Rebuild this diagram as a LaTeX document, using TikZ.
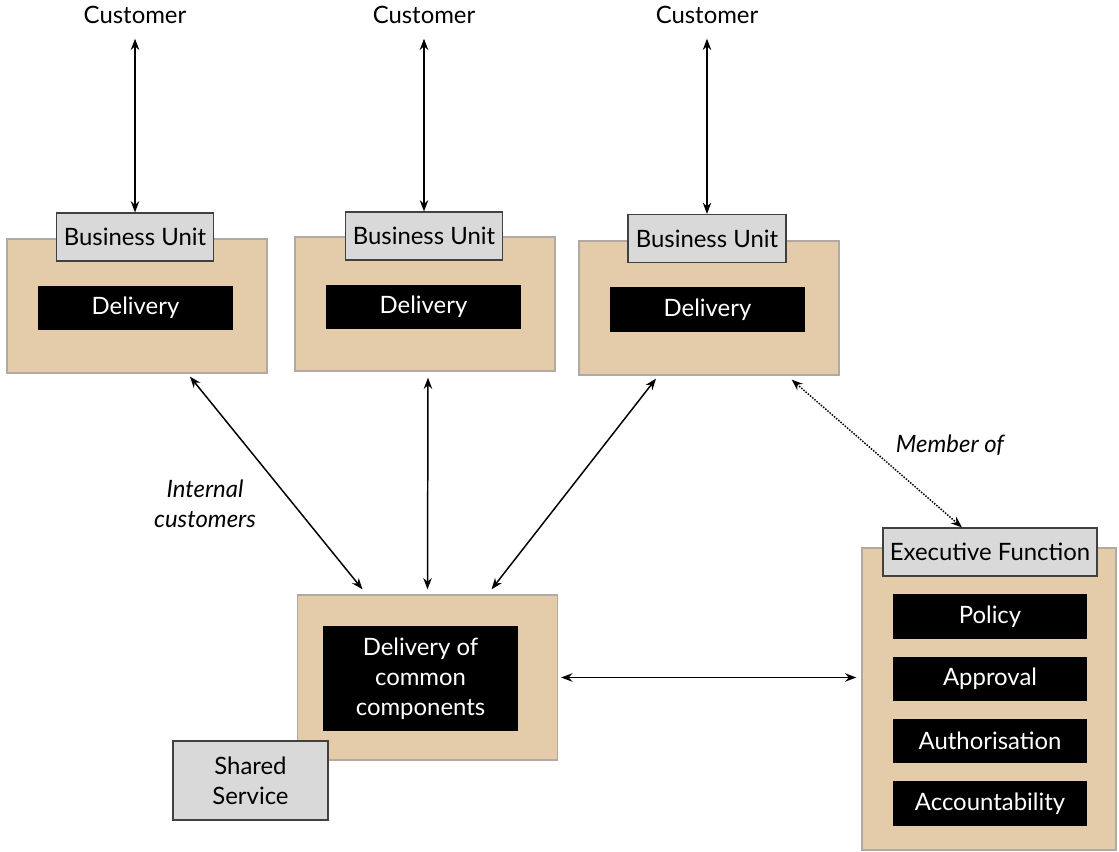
\documentclass[tikz,border=0pt]{standalone}
\usepackage{fontspec}
\setmainfont{Lato}
\usepackage{xcolor}
\usetikzlibrary{arrows.meta,positioning}

\definecolor{tanfill}{RGB}{228,204,170}
\definecolor{tanline}{RGB}{178,170,162}
\definecolor{lblfill}{RGB}{217,217,217}

\begin{document}
\begin{tikzpicture}[
    x=0.025cm, y=-0.025cm,
    font=\fontsize{17}{21.5}\selectfont,
    unit/.style={rectangle, draw=tanline, fill=tanfill, line width=0.9pt, minimum width=6.5cm, minimum height=3.35cm},
    lbl/.style={rectangle, draw=black!75, fill=lblfill, line width=0.8pt, align=center, minimum height=1.2cm, inner sep=2pt},
    task/.style={rectangle, fill=black, text=white, align=center, minimum width=4.85cm, minimum height=1.1cm},
    note/.style={align=center, font=\fontsize{17}{21.5}\selectfont\itshape},
    arrow/.style={{Stealth[length=8pt,width=6pt]}-{Stealth[length=8pt,width=6pt]}, line width=1.05pt, draw=black}
]
    \useasboundingbox (0,0) rectangle (1119,852);

    % business units
    \node [unit] (bu1) at (137,306) {};
    \node [unit] (bu2) at (425,304) {};
    \node [unit] (bu3) at (709,308) {};
    \node [lbl, minimum width=3.925cm] (bl1) at (135,237) {Business Unit};
    \node [lbl, minimum width=3.925cm] (bl2) at (424,236) {Business Unit};
    \node [lbl, minimum width=3.95cm] (bl3) at (707,238.5) {Business Unit};
    \node [task] (d1) at (135.5,308) {Delivery};
    \node [task] (d2) at (423.5,307) {Delivery};
    \node [task] (d3) at (707.5,309.5) {Delivery};

    % customers
    \node (c1) at (135,15) {Customer};
    \node (c2) at (424,15) {Customer};
    \node (c3) at (707,15) {Customer};

    % shared service
    \node [unit, minimum width=6.5cm, minimum height=4.125cm] (cc) at (427.5,677.5) {};
    \node [task, minimum height=2.625cm] (dc) at (420.5,678.5) {Delivery of\\common\\components};
    \node [lbl, minimum width=3.875cm, minimum height=1.975cm] (ss) at (250.5,780.5) {Shared\\Service};

    % executive function
    \node [unit, minimum width=6.35cm, minimum height=7.55cm] (ex) at (989,699) {};
    \node [lbl, minimum width=5.35cm] (el) at (990,552) {Executive Function};
    \node [task, minimum width=4.85cm, minimum height=1.125cm] (t1) at (990,616.5) {Policy};
    \node [task, minimum width=4.85cm, minimum height=1.1cm] (t2) at (990,679) {Approval};
    \node [task, minimum width=4.85cm, minimum height=1.1cm] (t3) at (990,741) {Authorisation};
    \node [task, minimum width=4.85cm, minimum height=1.125cm] (t4) at (990,803.5) {Accountability};

    \node [note] (ic) at (205,504) {Internal\\customers};
    \node [note] (mo) at (950,445) {Member of};

    \draw [arrow] ([yshift=-0.25cm]c1.south) -- (bl1.north);
    \draw [arrow] ([yshift=-0.25cm]c2.south) -- (bl2.north);
    \draw [arrow] ([yshift=-0.25cm]c3.south) -- (bl3.north);
    \draw [arrow] ([xshift=1.325cm,yshift=-0.075cm]bu1.south) -- ([xshift=-1.625cm,yshift=0.125cm]cc.north);
    \draw [arrow] ([xshift=0.075cm,yshift=-0.15cm]bu2.south) -- ([yshift=0.125cm]cc.north);
    \draw [arrow] ([xshift=-1.325cm,yshift=-0.075cm]bu3.south) -- ([xshift=1.6cm,yshift=0.125cm]cc.north);
    \draw [arrow, densely dotted] ([xshift=-1.2cm,yshift=-0.1cm]bu3.south east) -- ([xshift=-0.7cm]el.north);
    \draw [arrow] ([xshift=0.075cm]cc.east) -- ([xshift=-0.125cm]cc.east -| ex.west);
\end{tikzpicture}
\end{document}
